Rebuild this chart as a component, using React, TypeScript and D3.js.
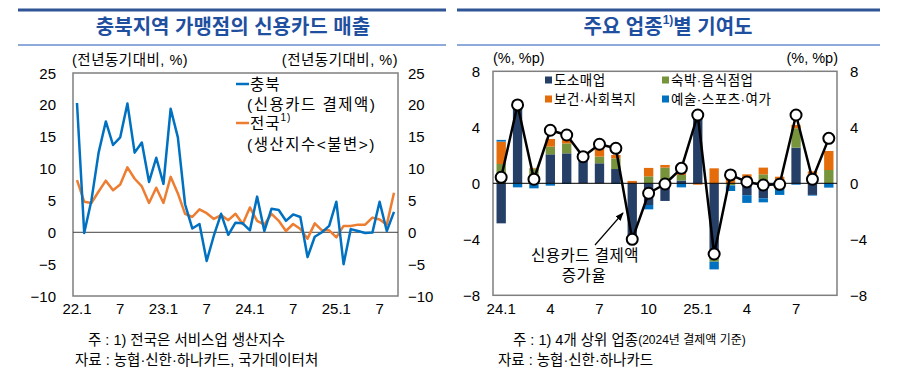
import React from "react";
import * as d3 from "d3";

// ---------- Left chart data ----------
const leftTickIdx = [0, 6, 12, 18, 24, 30, 36, 42];
const leftTickLabels = ["22.1", "7", "23.1", "7", "24.1", "7", "25.1", "7"];
const leftYTicks = [25, 20, 15, 10, 5, 0, -5, -10];
const chungbuk = [
  20.3, -0.1, 5.0, 12.5, 17.4, 13.7, 14.9, 20.2, 12.5, 14.1, 7.9, 11.7, 7.6, 19.4, 14.9,
  4.4, 0.6, 1.3, -4.5, -0.5, 2.9, -0.4, 1.5, 1.4, 0.3, 5.6, 0.2, 3.7, 3.5, 1.8, 2.8, 2.4,
  -3.9, -0.7, 0, 1.0, 4.8, -5.0, 0.5, 0.2, -0.1, -0.05, 4.8, 0.2, 3.2,
];
const national = [
  8.2, 4.8, 4.6, 6.4, 8.1, 6.6, 7.5, 10.2, 8.4, 7.2, 4.6, 7.0, 4.6, 8.7, 6.1, 2.9, 2.4,
  3.6, 3.0, 2.1, 2.7, 1.9, 2.9, 1.3, 3.9, 1.8, 1.2, 2.9, 1.8, 0.2, 1.3, 0.5, -1.0, 1.4,
  0.3, 0.3, -0.8, 1.0, 1.0, 1.2, 1.2, 2.3, 2.0, 1.2, 6.2,
];

// ---------- Right chart data ----------
const rightMonths = [
  "24.1", "24.2", "24.3", "24.4", "24.5", "24.6", "24.7", "24.8", "24.9", "24.10", "24.11", "24.12",
  "25.1", "25.2", "25.3", "25.4", "25.5", "25.6", "25.7", "25.8", "25.9",
];
const rightTickIdx = [0, 3, 6, 9, 12, 15, 18];
const rightTickLabels = ["24.1", "4", "7", "10", "25.1", "4", "7"];
const rightYTicks = [8, 4, 0, -4, -8];
const retail = [-2.86, 5.24, 0.45, 2.07, 2.14, 1.67, 1.43, 1.02, -3.7, -1.55, -1.26, 0.2, 4.8, -5.36, 0, -0.85, -1.07, -0.24, 2.55, -0.83, 0];
const food = [1.38, 0.12, 0.6, 0.55, 0.71, 0.1, 0.48, 0.76, 0, 0.5, 1.12, 0.4, 0, -0.24, -0.15, 0.36, 0.64, 0.15, 1.38, 0.6, 0.95];
const health = [1.6, 0, 0.05, 0.55, 0.36, 0, 0.6, 0.24, 0.17, 0.6, 0.19, 0.2, -0.1, 1.07, 0.45, 0.28, 0.48, 0.32, 0.24, 0.25, 1.36];
const arts = [0.12, -0.29, -0.36, -0.17, -0.05, 0.05, 0, -0.05, 0, -0.31, 0, -0.29, 0, -0.55, -0.4, -0.55, -0.29, -0.59, -0.1, -0.05, -0.31];
const growth = [0.43, 5.6, 0.29, 3.79, 3.45, 1.9, 2.79, 2.5, -4.0, -0.71, -0.05, 1.07, 4.88, -5.05, 0.6, 0.1, -0.12, -0.07, 4.88, 0.29, 3.21];
const seriesKeys = ["retail", "food", "health", "arts"];
const seriesNames = ["도소매업", "숙박·음식점업", "보건·사회복지", "예술·스포츠·여가"];
const seriesColors = ["#263f66", "#77933c", "#e46c0a", "#0070c0"];

const FONT = "'Liberation Sans', Arial, 'Noto Sans CJK KR', sans-serif";
const TITLE_COLOR = "#1f4f9f";
const fmt = (v: number) => (v < 0 ? "−" + Math.abs(v) : String(v));

function LeftChart() {
  const x = d3.scaleLinear().domain([0, chungbuk.length - 1]).range([77, 394]);
  const y = d3.scaleLinear().domain([-10, 25]).range([296, 73]);
  const line = d3
    .line<number>()
    .x((_, i) => x(i))
    .y((d) => y(d));
  return (
    <g>
      <rect x={73} y={73} width={325} height={223} fill="none" stroke="#7f7f7f" strokeWidth={1.5} />
      <line x1={73} x2={398} y1={y(0)} y2={y(0)} stroke="#404040" strokeWidth={1} />
      {leftYTicks.map((t) => (
        <g key={t}>
          <text x={56} y={y(t)} textAnchor="end" dominantBaseline="central" fontSize={15}>
            {fmt(t)}
          </text>
          <text x={408} y={y(t)} textAnchor="start" dominantBaseline="central" fontSize={15}>
            {fmt(t)}
          </text>
        </g>
      ))}
      {leftTickIdx.map((idx, k) => (
        <text key={k} x={x(idx)} y={308} textAnchor="middle" dominantBaseline="central" fontSize={15}>
          {leftTickLabels[k]}
        </text>
      ))}
      <text x={72} y={60} fontSize={14.5} dominantBaseline="central" letterSpacing={0.5}>(전년동기대비, %)</text>
      <text x={398} y={60} fontSize={14.5} textAnchor="end" dominantBaseline="central" letterSpacing={0.5}>(전년동기대비, %)</text>
      <path d={line(national) || ""} fill="none" stroke="#ed7d31" strokeWidth={2.5} strokeLinejoin="round" />
      <path d={line(chungbuk) || ""} fill="none" stroke="#0070c0" strokeWidth={2.5} strokeLinejoin="round" />
      {/* legend */}
      <line x1={236} x2={249} y1={84} y2={84} stroke="#0070c0" strokeWidth={2.5} />
      <text x={250} y={84} fontSize={15.5} dominantBaseline="central" letterSpacing={1}>충북</text>
      <text x={247} y={104} fontSize={15.5} dominantBaseline="central" letterSpacing={1.5}>(신용카드 결제액)</text>
      <line x1={236} x2={249} y1={123} y2={123} stroke="#ed7d31" strokeWidth={2.5} />
      <text x={250} y={123} fontSize={15.5} dominantBaseline="central" letterSpacing={1}>
        전국
        <tspan fontSize={10} dy={-6}>1)</tspan>
      </text>
      <text x={247} y={144} fontSize={15.5} dominantBaseline="central" letterSpacing={1.5}>(생산지수&lt;불변&gt;)</text>
    </g>
  );
}

function RightChart() {
  const x = d3
    .scaleBand<string>()
    .domain(rightMonths)
    .range([493, 837])
    .paddingInner(0.43)
    .paddingOuter(0.215);
  const y = d3.scaleLinear().domain([-8, 8]).range([295.3, 71.3]);
  const rows = rightMonths.map((m, i) => ({
    month: m,
    retail: retail[i],
    food: food[i],
    health: health[i],
    arts: arts[i],
  }));
  const stacked = d3
    .stack<any>()
    .keys(seriesKeys)
    .offset(d3.stackOffsetDiverging)(rows);
  const cx = (i: number) => (x(rightMonths[i]) as number) + x.bandwidth() / 2;
  const line = d3
    .line<number>()
    .x((_, i) => cx(i))
    .y((d) => y(d));
  return (
    <g>
      <rect x={493} y={71.3} width={344} height={224} fill="none" stroke="#7f7f7f" strokeWidth={1.5} />
      {stacked.map((s, si) => (
        <g key={s.key} fill={seriesColors[si]}>
          {s.map((d, i) => {
            const h = Math.abs(y(d[0]) - y(d[1]));
            if (h < 0.01) return null;
            return (
              <rect
                key={i}
                x={x(rightMonths[i])}
                width={x.bandwidth()}
                y={Math.min(y(d[0]), y(d[1]))}
                height={h}
              />
            );
          })}
        </g>
      ))}
      <line x1={493} x2={837} y1={y(0)} y2={y(0)} stroke="#000" strokeWidth={1} />
      <path d={line(growth) || ""} fill="none" stroke="#000" strokeWidth={2.5} strokeLinejoin="round" />
      {growth.map((g, i) => (
        <circle key={i} cx={cx(i)} cy={y(g)} r={5.5} fill="#fff" stroke="#000" strokeWidth={2} />
      ))}
      {rightYTicks.map((t) => (
        <g key={t}>
          <text x={480} y={y(t)} textAnchor="end" dominantBaseline="central" fontSize={15}>
            {fmt(t)}
          </text>
          <text x={850} y={y(t)} textAnchor="start" dominantBaseline="central" fontSize={15}>
            {fmt(t)}
          </text>
        </g>
      ))}
      {rightTickIdx.map((idx, k) => (
        <text key={k} x={cx(idx)} y={308} textAnchor="middle" dominantBaseline="central" fontSize={15}>
          {rightTickLabels[k]}
        </text>
      ))}
      <text x={493} y={58} fontSize={14.5} dominantBaseline="central">(%, %p)</text>
      <text x={838} y={58} fontSize={14.5} textAnchor="end" dominantBaseline="central">(%, %p)</text>
      {/* legend */}
      {seriesNames.map((n, i) => {
        const lx = i % 2 === 0 ? 545 : 662;
        const ly = i < 2 ? 80 : 99;
        return (
          <g key={n}>
            <rect x={lx} y={ly - 3.5} width={7} height={7} fill={seriesColors[i]} />
            <text x={lx + 9} y={ly} fontSize={13.5} dominantBaseline="central" letterSpacing={0.5}>{n}</text>
          </g>
        );
      })}
      {/* annotation */}
      <defs>
        <marker id="arr" viewBox="0 0 10 10" refX={9} refY={5} markerWidth={7} markerHeight={7} orient="auto">
          <path d="M0,1 L10,5 L0,9 z" fill="#000" />
        </marker>
      </defs>
      <line x1={595} y1={245} x2={623} y2={213} stroke="#000" strokeWidth={1.2} markerEnd="url(#arr)" />
      <text x={585} y={255} fontSize={15.5} textAnchor="middle" dominantBaseline="central" letterSpacing={0.5}>신용카드 결제액</text>
      <text x={584} y={275} fontSize={15.5} textAnchor="middle" dominantBaseline="central" letterSpacing={0.5}>증가율</text>
    </g>
  );
}

export default function App() {
  return (
    <svg
      width={899}
      height={384}
      style={{ position: "absolute", left: 0, top: 0, background: "#fff", fontFamily: FONT }}
    >
      {/* title bars */}
      <line x1={18} x2={446} y1={10} y2={10} stroke="#2f5597" strokeWidth={3} />
      <line x1={18} x2={446} y1={45} y2={45} stroke="#8eaadb" strokeWidth={2} />
      <line x1={457} x2={880} y1={10} y2={10} stroke="#2f5597" strokeWidth={3} />
      <line x1={457} x2={880} y1={45} y2={45} stroke="#8eaadb" strokeWidth={2} />
      <text x={233} y={27} fontSize={20} fontWeight="bold" fill={TITLE_COLOR} textAnchor="middle" dominantBaseline="central">
        충북지역 가맹점의 신용카드 매출
      </text>
      <text x={668} y={27} fontSize={20} fontWeight="bold" fill={TITLE_COLOR} textAnchor="middle" dominantBaseline="central">
        주요 업종<tspan fontSize={12} dy={-7}>1)</tspan>
        <tspan dy={7}>별 기여도</tspan>
      </text>
      <LeftChart />
      <RightChart />
      {/* footnotes */}
      <text x={88} y={340} fontSize={14.5} dominantBaseline="central">주 : 1) 전국은 서비스업 생산지수</text>
      <text x={75} y={360} fontSize={14.5} dominantBaseline="central">자료 : 농협·신한·하나카드, 국가데이터처</text>
      <text x={513} y={340} fontSize={14.5} dominantBaseline="central">
        주 : 1) 4개 상위 업종<tspan fontSize={12}>(2024년 결제액 기준)</tspan>
      </text>
      <text x={498} y={360} fontSize={14.5} dominantBaseline="central">자료 : 농협·신한·하나카드</text>
    </svg>
  );
}
